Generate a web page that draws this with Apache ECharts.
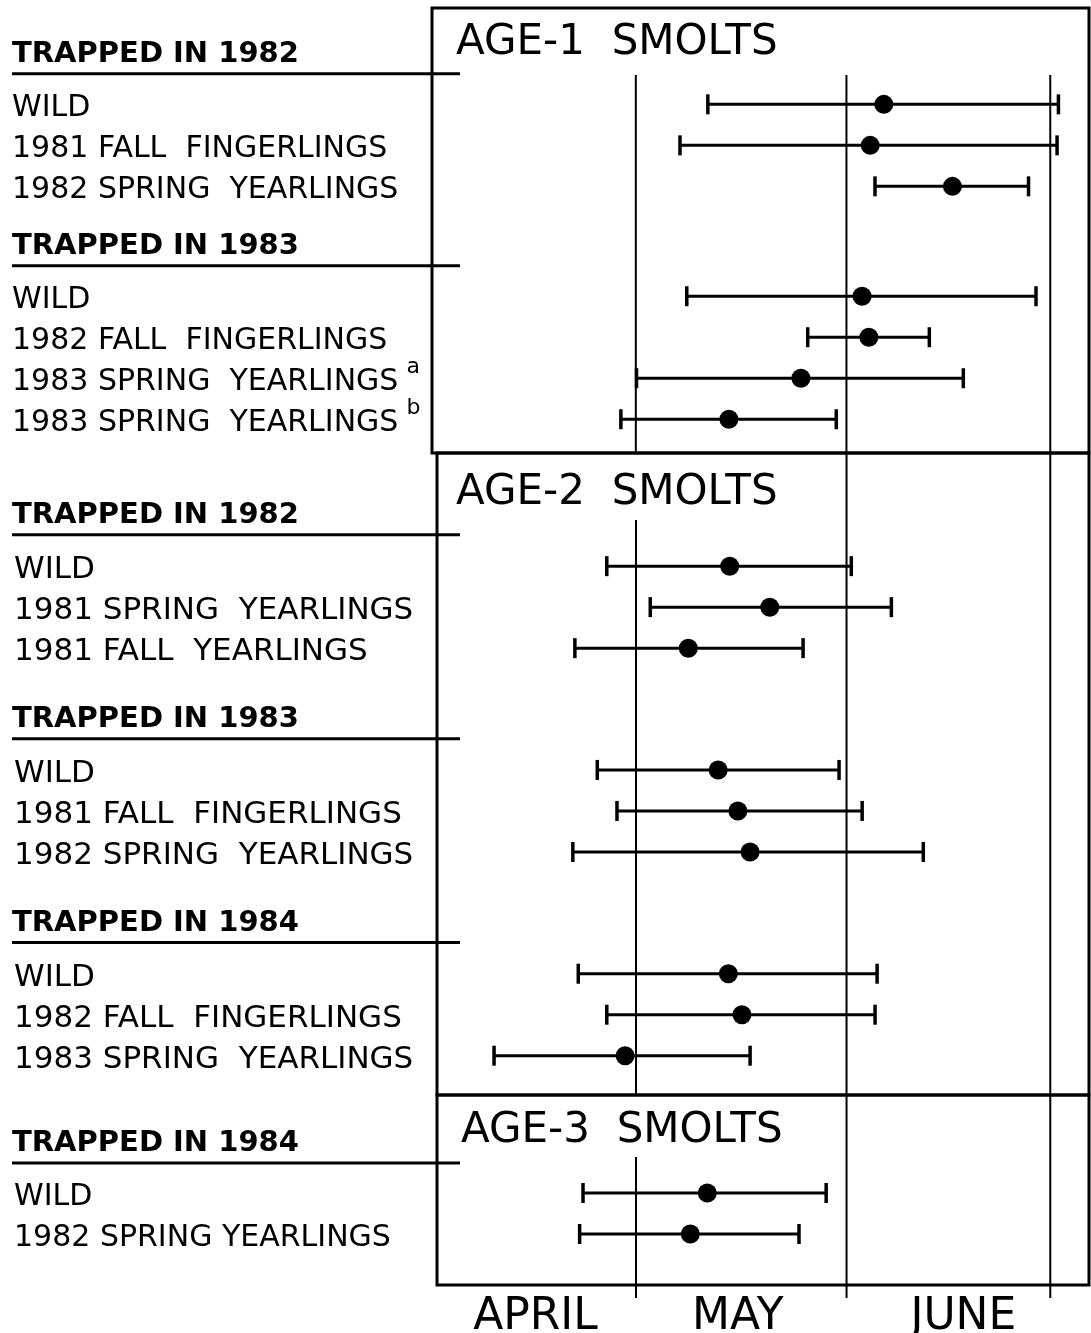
<!DOCTYPE html>
<html>
<head>
<meta charset="utf-8">
<script src="https://cdn.jsdelivr.net/npm/echarts@6/dist/echarts.min.js"></script>
<style>
  html, body { margin: 0; padding: 0; background: #fff; }
  #chart { width: 1091px; height: 1333px; }
</style>
</head>
<body>
<div id="chart"></div>
<script>
// x values are days counted from April 1 (30 = May 1, 61 = June 1, 91 = July 1)
const monthNames = ['APRIL', 'MAY', 'JUNE'];
const monthStarts = [0, 30, 61, 91];
const monthLabelDays = [15.2, 45, 78.2];

// age-1 smolts
const age1Groups = ['TRAPPED IN 1982', 'TRAPPED IN 1983'];
const age1Rows = ['WILD', '1981 FALL  FINGERLINGS', '1982 SPRING  YEARLINGS',
  'WILD', '1982 FALL  FINGERLINGS', '1983 SPRING  YEARLINGS', '1983 SPRING  YEARLINGS'];
const age1RowGroup = [0, 0, 0, 1, 1, 1, 1];
const age1Notes = ['', '', '', '', '', 'a', 'b'];
const age1Low = [40.6, 36.5, 65.2, 37.5, 55.3, 30.1, 27.8];
const age1Mean = [66.5, 64.5, 76.6, 63.3, 64.3, 54.3, 43.7];
const age1High = [92.2, 92.0, 87.8, 88.9, 73.2, 78.2, 59.5];

// age-2 smolts
const age2Groups = ['TRAPPED IN 1982', 'TRAPPED IN 1983', 'TRAPPED IN 1984'];
const age2Rows = ['WILD', '1981 SPRING  YEARLINGS', '1981 FALL  YEARLINGS',
  'WILD', '1981 FALL  FINGERLINGS', '1982 SPRING  YEARLINGS',
  'WILD', '1982 FALL  FINGERLINGS', '1983 SPRING  YEARLINGS'];
const age2RowGroup = [0, 0, 0, 1, 1, 1, 2, 2, 2];
const age2Notes = ['', '', '', '', '', '', '', '', ''];
const age2Low = [25.7, 32.1, 21.0, 24.3, 27.2, 20.7, 21.5, 25.7, 9.1];
const age2Mean = [43.8, 49.7, 37.7, 42.1, 45.0, 46.8, 43.6, 45.6, 28.4];
const age2High = [61.7, 67.6, 54.6, 59.9, 63.3, 72.3, 65.5, 65.2, 46.8];

// age-3 smolts
const age3Groups = ['TRAPPED IN 1984'];
const age3Rows = ['WILD', '1982 SPRING YEARLINGS'];
const age3RowGroup = [0, 0];
const age3Notes = ['', ''];
const age3Low = [22.2, 21.7];
const age3Mean = [40.5, 38.0];
const age3High = [58.0, 54.0];

const FONT = 'DejaVu Sans';
const ROW_PX = 41;
const X_MAX = 96.7;
const BOX_RIGHT = 1089;
const TEXT_LEFT = 12;

const panels = [
  { title: 'AGE-1  SMOLTS', groups: age1Groups, rows: age1Rows, rowGroup: age1RowGroup, notes: age1Notes,
    low: age1Low, mean: age1Mean, high: age1High, rowFont: 30, rowIndent: 0,
    top: 8, height: 445, left: 432, xMin: 0, titleLeft: 456, titleTop: 22,
    firstHeader: 1.07, headerGap: 1.28, groupGap: 1.4, lineStart: [67, 67, 67], lineExtend: 0 },
  { title: 'AGE-2  SMOLTS', groups: age2Groups, rows: age2Rows, rowGroup: age2RowGroup, notes: age2Notes,
    low: age2Low, mean: age2Mean, high: age2High, rowFont: 31, rowIndent: 2,
    top: 453, height: 642, left: 437, xMin: 0.7, titleLeft: 456, titleTop: 472,
    firstHeader: 1.46, headerGap: 1.3, groupGap: 1.67, lineStart: [67, 0, 0], lineExtend: 0 },
  { title: 'AGE-3  SMOLTS', groups: age3Groups, rows: age3Rows, rowGroup: age3RowGroup, notes: age3Notes,
    low: age3Low, mean: age3Mean, high: age3High, rowFont: 30, rowIndent: 2,
    top: 1095, height: 190, left: 437, xMin: 0.7, titleLeft: 461, titleTop: 1110,
    firstHeader: 1.12, headerGap: 1.27, groupGap: 1.5, lineStart: [62, 0, 0], lineExtend: 13 }
];

function layoutRows(rowGroup, firstHeader, headerGap, groupGap) {
  const headers = [];
  const rows = [];
  let y = firstHeader;
  rowGroup.forEach((g, i) => {
    if (i === 0 || g !== rowGroup[i - 1]) {
      if (i > 0) y += groupGap;
      headers.push(y);
      y += headerGap;
    } else {
      y += 1;
    }
    rows.push(y);
  });
  return { headers, rows };
}

const key = v => Number(v).toFixed(4);
const grids = [], xAxes = [], yAxes = [], series = [], titles = [];

panels.forEach((p, i) => {
  const pos = layoutRows(p.rowGroup, p.firstHeader, p.headerGap, p.groupGap);
  const labelMap = {};
  pos.headers.forEach((y, k) => { labelMap[key(y)] = '{h|' + p.groups[k] + '}'; });
  pos.rows.forEach((y, k) => {
    labelMap[key(y)] = '{i|' + p.rows[k] + '}' + (p.notes[k] ? '{s|' + p.notes[k] + '}' : '');
  });
  // headings first and last so the min/max label check never compares two neighbouring rows
  const labelValues = [pos.headers[0]].concat(pos.rows, pos.headers.slice(1));
  const labelMargin = p.left - TEXT_LEFT;

  grids.push({ left: p.left, top: p.top, width: BOX_RIGHT - p.left, height: p.height,
    outerBoundsMode: 'none', containLabel: false,
    show: true, borderColor: '#000', borderWidth: 3 });

  const last = i === panels.length - 1;
  xAxes.push({
    type: 'value', gridIndex: i, min: p.xMin, max: X_MAX,
    axisLine: { show: false }, splitLine: { show: false }, axisTick: { show: false },
    axisLabel: last ? {
      show: true, customValues: monthLabelDays, margin: 11,
      fontFamily: FONT, fontSize: 44, color: '#000',
      formatter: v => monthNames[monthLabelDays.findIndex(m => Math.abs(m - v) < 0.01)] || ''
    } : { show: false }
  });

  yAxes.push({
    type: 'value', gridIndex: i, inverse: true, min: 0, max: p.height / ROW_PX,
    axisLine: { show: false }, axisTick: { show: false }, splitLine: { show: false },
    axisLabel: {
      show: true, customValues: labelValues,
      hideOverlap: false, showMinLabel: true, showMaxLabel: true,
      align: 'left', margin: labelMargin, color: '#000',
      formatter: v => labelMap[key(v)] || '',
      rich: {
        h: { fontFamily: FONT, fontSize: 29, fontWeight: 'bold', color: '#000', lineHeight: 30, padding: [6, 0, 0, 0] },
        i: { fontFamily: FONT, fontSize: p.rowFont, color: '#000', lineHeight: 30, padding: [8, 0, 0, p.rowIndent] },
        s: { fontFamily: FONT, fontSize: 22, color: '#000', lineHeight: 16, padding: [0, 0, 22, 8] }
      }
    }
  });

  titles.push({ text: p.title, left: p.titleLeft, top: p.titleTop, padding: 0,
    textStyle: { fontFamily: FONT, fontSize: 42, fontWeight: 'normal', color: '#000' } });

  // month boundary lines
  series.push({
    type: 'custom', xAxisIndex: i, yAxisIndex: i, clip: false, silent: true,
    data: monthStarts.slice(1).map(v => [v]),
    encode: { x: 0 },
    renderItem: (params, api) => {
      const cs = params.coordSys;
      const x = api.coord([api.value(0), 0])[0];
      return { type: 'line',
        shape: { x1: x, y1: cs.y + p.lineStart[params.dataIndex], x2: x, y2: cs.y + cs.height + p.lineExtend },
        style: { stroke: '#000', lineWidth: 2 } };
    }
  });

  // underline under each "trapped in" heading
  series.push({
    type: 'custom', xAxisIndex: i, yAxisIndex: i, clip: false, silent: true,
    data: pos.headers.map(y => [p.xMin, y]),
    encode: { x: 0, y: 1 },
    renderItem: (params, api) => {
      const cs = params.coordSys;
      const y = api.coord([api.value(0), api.value(1)])[1] + 22;
      const x1 = cs.x - labelMargin;
      return { type: 'line',
        shape: { x1: x1, y1: y, x2: x1 + 448, y2: y },
        style: { stroke: '#000', lineWidth: 3 } };
    }
  });

  // range bars with end caps
  series.push({
    type: 'custom', xAxisIndex: i, yAxisIndex: i, clip: false, silent: true,
    data: pos.rows.map((y, k) => [y, p.low[k], p.high[k]]),
    encode: { x: [1, 2], y: 0 },
    renderItem: (params, api) => {
      const a = api.coord([api.value(1), api.value(0)]);
      const b = api.coord([api.value(2), api.value(0)]);
      const cap = { stroke: '#000', lineWidth: 3.5 };
      return { type: 'group', children: [
        { type: 'line', shape: { x1: a[0], y1: a[1], x2: b[0], y2: b[1] }, style: { stroke: '#000', lineWidth: 3 } },
        { type: 'line', shape: { x1: a[0], y1: a[1] - 10, x2: a[0], y2: a[1] + 10 }, style: cap },
        { type: 'line', shape: { x1: b[0], y1: b[1] - 10, x2: b[0], y2: b[1] + 10 }, style: cap }
      ] };
    }
  });

  // mean dates
  series.push({
    type: 'scatter', xAxisIndex: i, yAxisIndex: i, silent: true,
    symbol: 'circle', symbolSize: 19, itemStyle: { color: '#000', opacity: 1 },
    data: pos.rows.map((y, k) => [p.mean[k], y])
  });
});

const chart = echarts.init(document.getElementById('chart'));
chart.setOption({
  animation: false,
  backgroundColor: '#fff',
  title: titles,
  grid: grids,
  xAxis: xAxes,
  yAxis: yAxes,
  series: series
});
</script>
</body>
</html>
